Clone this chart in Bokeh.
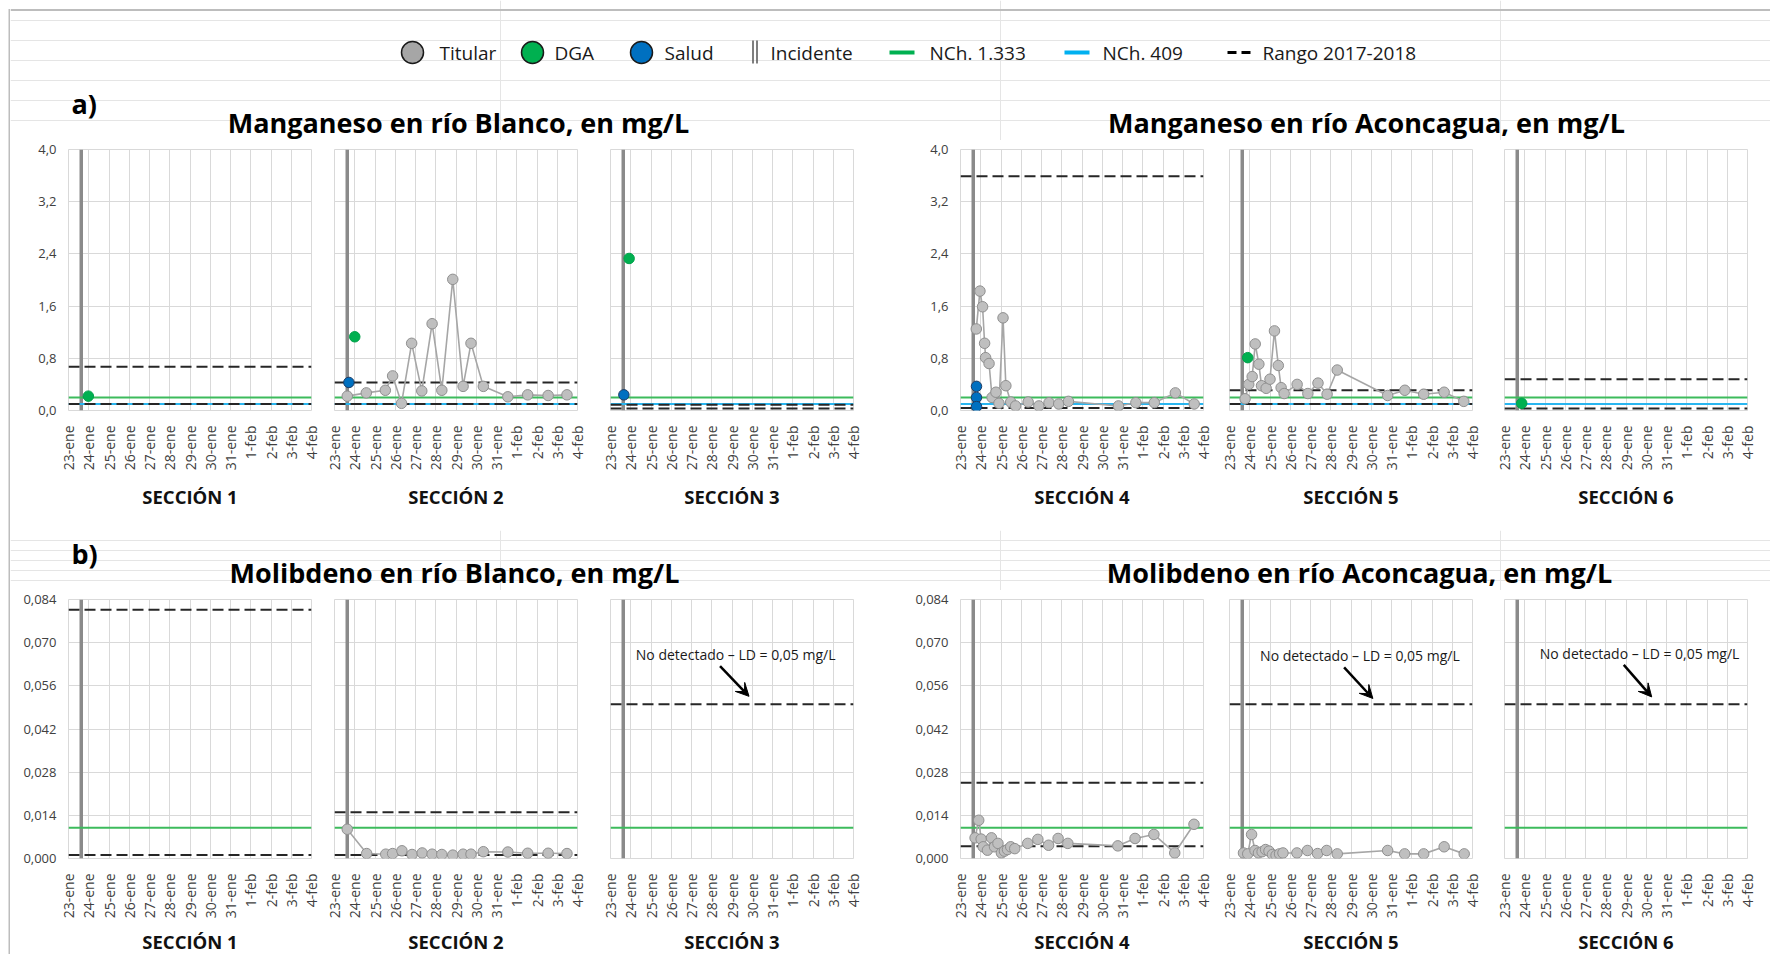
import math
from bokeh.plotting import figure
from bokeh.layouts import column, row
from bokeh.models import Range1d, FixedTicker, Span, Arrow, VeeHead
from bokeh.core.properties import value
from bokeh.embed import file_html
from bokeh.resources import INLINE

FONT = "Open Sans"

# ---------------------------------------------------------------- data
DATE_LABELS = ["23-ene", "24-ene", "25-ene", "26-ene", "27-ene", "28-ene", "29-ene",
               "30-ene", "31-ene", "1-feb", "2-feb", "3-feb", "4-feb"]
SECTIONS = ["SECCIÓN 1", "SECCIÓN 2", "SECCIÓN 3", "SECCIÓN 4", "SECCIÓN 5", "SECCIÓN 6"]

MN_TICKS = [0.0, 0.8, 1.6, 2.4, 3.2, 4.0]
MN_TICK_LABELS = ["0,0", "0,8", "1,6", "2,4", "3,2", "4,0"]
MO_TICKS = [0.0, 0.014, 0.028, 0.042, 0.056, 0.070, 0.084]
MO_TICK_LABELS = ["0,000", "0,014", "0,028", "0,042", "0,056", "0,070", "0,084"]

TITLE_A = ["Manganeso en río Blanco, en mg/L", "Manganeso en río Aconcagua, en mg/L"]
TITLE_B = ["Molibdeno en río Blanco, en mg/L", "Molibdeno en río Aconcagua, en mg/L"]
LEGEND_LABELS = ["Titular", "DGA", "Salud", "Incidente", "NCh. 1.333", "NCh. 409", "Rango 2017-2018"]
LD_TEXT = "No detectado – LD = 0,05 mg/L"

# days counted from 23-ene 00:00
INCIDENTE_DIA = 0.63

MN_NCH1333 = 0.2
MN_NCH409 = 0.1
MO_NCH1333 = 0.01

MN_RANGO_SUP = [0.67, 0.43, 0.09, 3.59, 0.31, 0.48]
MN_RANGO_INF = [0.10, 0.10, 0.03, 0.04, 0.10, 0.03]
MO_RANGO_SUP = [0.0807, 0.0150, None, 0.0246, None, None]
MO_RANGO_INF = [0.0011, 0.0011, None, 0.0040, None, None]
MO_LD = [None, None, 0.05, None, 0.05, 0.05]

# Manganeso - Titular
MN_TIT_S2_X = [0.63, 1.57, 2.51, 2.87, 3.31, 3.81, 4.31, 4.82, 5.30, 5.84, 6.35, 6.74, 7.35, 8.56, 9.54, 10.55, 11.48]
MN_TIT_S2_Y = [0.22, 0.27, 0.31, 0.53, 0.11, 1.03, 0.30, 1.33, 0.31, 2.01, 0.37, 1.03, 0.37, 0.21, 0.24, 0.23, 0.24]
MN_TIT_S4_X = [0.78, 0.96, 1.09, 1.19, 1.24, 1.41, 1.56, 1.75, 1.90, 2.10, 2.24, 2.48, 2.72, 3.34, 3.87,
               4.37, 4.85, 5.33, 7.80, 8.66, 9.57, 10.61, 11.54]
MN_TIT_S4_Y = [1.25, 1.83, 1.59, 1.03, 0.81, 0.72, 0.20, 0.28, 0.11, 1.42, 0.38, 0.13, 0.07, 0.13, 0.07,
               0.12, 0.10, 0.14, 0.07, 0.12, 0.12, 0.27, 0.10]
MN_TIT_S5_X = [0.77, 0.95, 1.12, 1.27, 1.45, 1.58, 1.81, 2.00, 2.22, 2.41, 2.55, 2.70, 3.34, 3.87, 4.37,
               4.82, 5.32, 7.81, 8.66, 9.59, 10.60, 11.57]
MN_TIT_S5_Y = [0.18, 0.40, 0.52, 1.02, 0.71, 0.38, 0.34, 0.48, 1.22, 0.69, 0.35, 0.26, 0.40, 0.26, 0.42,
               0.25, 0.62, 0.23, 0.31, 0.25, 0.28, 0.14]

# Manganeso - DGA / Salud
MN_DGA_X = [[0.98], [1.00], [0.92], [], [0.90], [0.85]]
MN_DGA_Y = [[0.22], [1.13], [2.33], [], [0.81], [0.11]]
MN_SAL_X = [[], [0.71], [0.66], [0.79, 0.79, 0.79], [], []]
MN_SAL_Y = [[], [0.43], [0.24], [0.37, 0.20, 0.06], [], []]

# Molibdeno - Titular
MO_TIT_S2_X = [0.63, 1.59, 2.53, 2.87, 3.33, 3.83, 4.33, 4.82, 5.30, 5.84, 6.35, 6.74, 7.35, 8.56, 9.54, 10.55, 11.48]
MO_TIT_S2_Y = [0.0095, 0.0016, 0.0014, 0.0016, 0.0025, 0.0013, 0.0018, 0.0014, 0.0013, 0.0011, 0.0014,
               0.0014, 0.0022, 0.0021, 0.0017, 0.0017, 0.0016]
MO_TIT_S4_X = [0.72, 0.90, 1.02, 1.12, 1.33, 1.53, 1.68, 1.85, 2.02, 2.17, 2.32, 2.48, 2.68, 3.32, 3.82,
               4.35, 4.82, 5.30, 7.77, 8.62, 9.55, 10.58, 11.53]
MO_TIT_S4_Y = [0.0067, 0.0124, 0.0063, 0.0038, 0.0027, 0.0067, 0.0038, 0.0049, 0.0018, 0.0024, 0.0029,
               0.0038, 0.0032, 0.0049, 0.0062, 0.0043, 0.0065, 0.0049, 0.0041, 0.0065, 0.0078, 0.0018, 0.0111]
MO_TIT_S5_X = [0.69, 0.90, 1.09, 1.26, 1.43, 1.61, 1.78, 1.95, 2.12, 2.30, 2.47, 2.64, 3.33, 3.85, 4.35,
               4.80, 5.32, 7.81, 8.65, 9.59, 10.60, 11.59]
MO_TIT_S5_Y = [0.0018, 0.0015, 0.0078, 0.0026, 0.0018, 0.0022, 0.0029, 0.0024, 0.0013, 0.0010, 0.0015,
               0.0018, 0.0018, 0.0026, 0.0016, 0.0026, 0.0015, 0.0026, 0.0015, 0.0015, 0.0038, 0.0015]

MN_TIT = {1: (MN_TIT_S2_X, MN_TIT_S2_Y), 3: (MN_TIT_S4_X, MN_TIT_S4_Y), 4: (MN_TIT_S5_X, MN_TIT_S5_Y)}
MO_TIT = {1: (MO_TIT_S2_X, MO_TIT_S2_Y), 3: (MO_TIT_S4_X, MO_TIT_S4_Y), 4: (MO_TIT_S5_X, MO_TIT_S5_Y)}

# --------------------------------------------------------------- styles
GRID = "#d9d9d9"
GRAY_PT = "#bfbfbf"
GRAY_PT_LINE = "#8f8f8f"
GRAY_LINE = "#a6a6a6"
GREEN = "#00b050"
GREEN_LINE = "#3dbb5c"
BLUE = "#0070c0"
BLUE_LINE = "#29b6f0"
INC = "#8a8a8a"
DASH = "#262626"
TXT = "#404040"
FRAME_COLOR = "#bdbdbd"

FRAME_W = 243
LEFT_B = [58, 12, 17, 87, 13, 16]
RIGHT_B = [11, 16, 20, 13, 16, 10]

# annotation placement (text centre, arrow start, arrow end) in data units
LD_ANNOT = {2: (6.18, 0.0662, 5.41, 0.0624, 6.84, 0.0526),
            4: (6.44, 0.0658, 5.66, 0.0620, 7.08, 0.0519),
            5: (6.67, 0.0666, 5.89, 0.0628, 7.27, 0.0524)}


def panel(i, mn, frame_h, top_b, bottom_b, sec_standoff):
    ymax = 4.0 if mn else 0.084
    ticks = MN_TICKS if mn else MO_TICKS
    tlabels = MN_TICK_LABELS if mn else MO_TICK_LABELS
    p = figure(frame_width=FRAME_W, frame_height=frame_h,
               x_range=Range1d(0, 12), y_range=Range1d(0, ymax),
               output_backend="svg", toolbar_location=None,
               min_border_left=LEFT_B[i], min_border_right=RIGHT_B[i],
               min_border_top=top_b, min_border_bottom=bottom_b,
               border_fill_color="white", background_fill_color="white")
    p.outline_line_color = GRID
    p.outline_line_width = 1

    # x axis
    xa = p.xaxis[0]
    xa.ticker = FixedTicker(ticks=list(range(len(DATE_LABELS))))
    xa.major_label_overrides = {k: lab for k, lab in enumerate(DATE_LABELS)}
    xa.major_label_orientation = math.pi / 2
    xa.major_label_text_font = FONT
    xa.major_label_text_font_size = "14px"
    xa.major_label_text_color = TXT
    xa.major_label_standoff = 9
    xa.axis_line_color = None
    xa.major_tick_line_color = None
    xa.minor_tick_line_color = None
    xa.axis_label = SECTIONS[i]
    xa.axis_label_text_font = FONT
    xa.axis_label_text_font_size = "18.5px"
    xa.axis_label_text_font_style = "bold"
    xa.axis_label_text_color = "#111111"
    xa.axis_label_standoff = sec_standoff

    # y axis
    ya = p.yaxis[0]
    ya.ticker = FixedTicker(ticks=ticks)
    ya.major_label_overrides = {t: l for t, l in zip(ticks, tlabels)}
    ya.major_label_text_font = FONT
    ya.major_label_text_font_size = "13px"
    ya.major_label_text_color = TXT
    ya.major_label_standoff = 6
    ya.axis_line_color = None
    ya.major_tick_line_color = None
    ya.minor_tick_line_color = None
    if i not in (0, 3):
        ya.visible = False

    p.xgrid.ticker = FixedTicker(ticks=list(range(len(DATE_LABELS))))
    p.ygrid.ticker = FixedTicker(ticks=ticks)
    p.grid.grid_line_color = GRID
    p.grid.grid_line_width = 1

    # reference lines
    p.add_layout(Span(location=INCIDENTE_DIA, dimension="height", line_color=INC,
                      line_width=3.5, level="underlay"))
    if mn:
        p.add_layout(Span(location=MN_NCH1333, dimension="width", line_color=GREEN_LINE,
                          line_width=2, level="underlay"))
        p.add_layout(Span(location=MN_NCH409, dimension="width", line_color=BLUE_LINE,
                          line_width=2, level="underlay"))
        levels = [MN_RANGO_SUP[i], MN_RANGO_INF[i]]
    else:
        p.add_layout(Span(location=MO_NCH1333, dimension="width", line_color=GREEN_LINE,
                          line_width=2, level="underlay"))
        levels = [MO_RANGO_SUP[i], MO_RANGO_INF[i], MO_LD[i]]
    for lv in levels:
        if lv is not None:
            p.add_layout(Span(location=lv, dimension="width", line_color=DASH,
                              line_dash="11 5", line_width=2, level="underlay"))

    # series
    tit = (MN_TIT if mn else MO_TIT).get(i)
    if tit:
        p.line(tit[0], tit[1], line_color=GRAY_LINE, line_width=1.6)
        p.scatter(tit[0], tit[1], size=10.5, fill_color=GRAY_PT, line_color=GRAY_PT_LINE, line_width=1)
    if mn:
        if MN_DGA_X[i]:
            p.scatter(MN_DGA_X[i], MN_DGA_Y[i], size=10.5, fill_color=GREEN, line_color="#00a04a", line_width=1)
        if MN_SAL_X[i]:
            p.scatter(MN_SAL_X[i], MN_SAL_Y[i], size=10.5, fill_color=BLUE, line_color="#1d3d66", line_width=1)
    else:
        if i in LD_ANNOT:
            tx, ty, ax0, ay0, ax1, ay1 = LD_ANNOT[i]
            p.text(x=[tx], y=[ty], text=[LD_TEXT], text_font=value(FONT), text_font_size="14px",
                   text_color="#1a1a1a", text_align="center", text_baseline="middle")
            p.add_layout(Arrow(x_start=ax0, y_start=ay0, x_end=ax1, y_end=ay1,
                               line_color="black", line_width=2.5,
                               end=VeeHead(size=13, fill_color="black", line_color="black", line_width=1)))
    return p


HDR_X0, HDR_X1 = 10, 1770
LEG_Y = 52
LEG_MARK_X = [412, 532, 641]          # Titular, DGA, Salud circles
LEG_INC_X = [752.5, 756.5]            # double bar of Incidente
LEG_LINE_X = [(889, 914), (1064, 1089), (1227, 1252)]
LEG_TEXT_X = [439, 554, 664, 770, 929, 1102, 1262]


def header(y_top, y_bot, label, label_y, title_y, titles, title_x, with_legend):
    height = y_bot - y_top
    h = figure(width=HDR_X1 - HDR_X0, height=height, x_range=Range1d(HDR_X0, HDR_X1),
               y_range=Range1d(y_bot, y_top),
               output_backend="svg", toolbar_location=None, min_border=0,
               x_axis_location=None, y_axis_location=None,
               border_fill_color="white", background_fill_color="white")
    h.outline_line_color = None
    h.text(x=[71], y=[label_y], text=[label], text_font=value(FONT), text_font_size="27px",
           text_font_style="bold", text_color="black", text_baseline="middle", text_align="left")
    h.text(x=title_x, y=[title_y, title_y], text=titles, text_font=value(FONT), text_font_size="27px",
           text_font_style="bold", text_color="black", text_baseline="middle", text_align="center")
    if with_legend:
        h.add_layout(Span(location=9.5, dimension="width", line_color=FRAME_COLOR, line_width=2))
        h.scatter(LEG_MARK_X, [LEG_Y] * 3, size=22, fill_color=["#a6a6a6", GREEN, BLUE],
                  line_color="#1a1a1a", line_width=1.5)
        h.segment(x0=LEG_INC_X, y0=[LEG_Y - 12] * 2, x1=LEG_INC_X, y1=[LEG_Y + 11] * 2,
                  line_color="#5f5f5f", line_width=1.6)
        cols = [GREEN, "#00b0f0", "black"]
        for (xa, xb), c, dash, w in zip(LEG_LINE_X, cols, ["solid", "solid", "9 5"], [4, 4, 3]):
            h.segment(x0=[xa], y0=[LEG_Y], x1=[xb], y1=[LEG_Y], line_color=c, line_width=w, line_dash=dash)
        h.text(x=LEG_TEXT_X, y=[LEG_Y] * len(LEG_TEXT_X), text=LEGEND_LABELS, text_font=value(FONT),
               text_font_size="19px", text_color="#1a1a1a", text_baseline="middle", text_align="left")
    return h


hdr_a = header(0, 140, "a)", 103, 121.5, TITLE_A, [458, 1366], True)
row_a = row([panel(i, True, 261, 9, 120, 11) for i in range(6)])
hdr_b = header(530, 590, "b)", 553, 571.5, TITLE_B, [454, 1359], False)
row_b = row([panel(i, False, 259, 9, 96, 8) for i in range(6)])

strip = figure(width=10, height=954, x_range=Range1d(0, 10), y_range=Range1d(954, 0),
               x_axis_location=None, y_axis_location=None, min_border=0,
               toolbar_location=None, output_backend="svg",
               border_fill_color="white", background_fill_color="white")
strip.outline_line_color = None
strip.grid.visible = False
strip.segment(x0=[9], y0=[8.5], x1=[9], y1=[954], line_color=FRAME_COLOR, line_width=2)

layout = row([strip, column([hdr_a, row_a, hdr_b, row_b])])

with open("out.html", "w") as f:
    f.write(file_html(layout, INLINE))
